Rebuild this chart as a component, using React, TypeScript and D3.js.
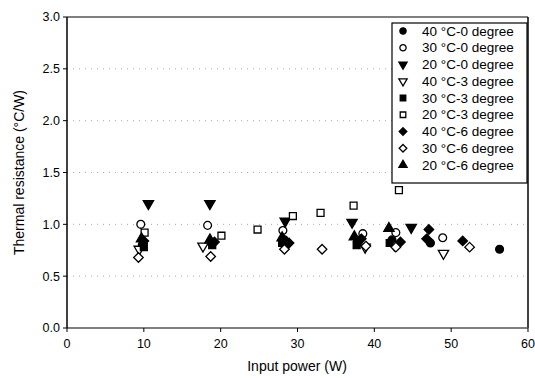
import React from "react";
import * as d3 from "d3";

const seriesNames = [
  "40 °C-0 degree",
  "30 °C-0 degree",
  "20 °C-0 degree",
  "40 °C-3 degree",
  "30 °C-3 degree",
  "20 °C-3 degree",
  "40 °C-6 degree",
  "30 °C-6 degree",
  "20 °C-6 degree",
];

const s40c0: [number, number][] = [[9.8, 0.8], [18.8, 0.82], [28.3, 0.85], [37.8, 0.84], [42.3, 0.85], [47.3, 0.82], [56.3, 0.76]];
const s30c0: [number, number][] = [[9.6, 1.0], [18.3, 0.99], [28.1, 0.94], [38.5, 0.91], [42.8, 0.92], [48.9, 0.87]];
const s20c0: [number, number][] = [[10.6, 1.2], [18.6, 1.2], [28.4, 1.03], [37.1, 1.02], [44.8, 0.97]];
const s40c3: [number, number][] = [[9.4, 0.76], [17.7, 0.79], [38.8, 0.78], [42.6, 0.8], [49.0, 0.72]];
const s30c3: [number, number][] = [[10.0, 0.78], [18.9, 0.8], [28.0, 0.82], [37.7, 0.8], [42.0, 0.82]];
const s20c3: [number, number][] = [[10.1, 0.92], [20.1, 0.89], [24.8, 0.95], [29.4, 1.08], [33.0, 1.11], [37.3, 1.18], [43.2, 1.33]];
const s40c6: [number, number][] = [[10.0, 0.84], [19.2, 0.83], [28.9, 0.82], [38.3, 0.86], [43.4, 0.83], [47.1, 0.95], [46.8, 0.86], [51.5, 0.84]];
const s30c6: [number, number][] = [[9.3, 0.68], [18.7, 0.69], [28.3, 0.76], [33.2, 0.76], [38.9, 0.79], [42.8, 0.78], [52.4, 0.78]];
const s20c6: [number, number][] = [[9.7, 0.86], [18.6, 0.85], [28.0, 0.87], [37.4, 0.88], [41.9, 0.96]];

const allSeries = [s40c0, s30c0, s20c0, s40c3, s30c3, s20c3, s40c6, s30c6, s20c6];

type Mk = { shape: "circle" | "tri" | "triDown" | "square" | "diamond"; filled: boolean };
const markers: Mk[] = [
  { shape: "circle", filled: true },
  { shape: "circle", filled: false },
  { shape: "triDown", filled: true },
  { shape: "triDown", filled: false },
  { shape: "square", filled: true },
  { shape: "square", filled: false },
  { shape: "diamond", filled: true },
  { shape: "diamond", filled: false },
  { shape: "tri", filled: true },
];

const xTicks = [0, 10, 20, 30, 40, 50, 60];
const yTicks = [0, 0.5, 1.0, 1.5, 2.0, 2.5, 3.0];

const W = 535, H = 378;
const L = 67, R = 528, T = 17, B = 328;

function Marker({ mk, x, y, scale = 1 }: { mk: Mk; x: number; y: number; scale?: number }) {
  let type: d3.SymbolType = d3.symbolCircle;
  let size = 48;
  let rot = 0;
  if (mk.shape === "square") { type = d3.symbolSquare; size = 48; }
  if (mk.shape === "diamond") { type = d3.symbolDiamond2; size = 58; }
  if (mk.shape === "tri") { type = d3.symbolTriangle; size = 46; }
  if (mk.shape === "triDown") { type = d3.symbolTriangle; size = 46; rot = 180; }
  const path = d3.symbol(type, size * scale * scale)() || "";
  return (
    <path
      d={path}
      transform={`translate(${x},${y}) rotate(${rot})`}
      fill={mk.filled ? "#000" : "#fff"}
      stroke="#000"
      strokeWidth={1.3}
    />
  );
}

export default function App() {
  const x = d3.scaleLinear().domain([0, 60]).range([L, R]);
  const y = d3.scaleLinear().domain([0, 3]).range([B, T]);
  const font = "Arial, 'Liberation Sans', sans-serif";
  const legX = 392, legY = 23, legW = 135, legH = 160;
  return (
    <svg width={W} height={H} style={{ position: "absolute", left: 0, top: 0, background: "#fff" }} fontFamily={font}>
      <rect x={0} y={0} width={W} height={H} fill="#fff" />
      {yTicks.filter((t) => t > 0 && t < 3).map((t) => (
        <line key={t} x1={L} x2={R} y1={y(t)} y2={y(t)} stroke="#aaaaaa" strokeWidth={1} strokeDasharray="1,5" />
      ))}
      {/* frame */}
      <line x1={L} x2={R} y1={T} y2={T} stroke="#000" strokeWidth={1.2} />
      <line x1={R} x2={R} y1={T} y2={B} stroke="#000" strokeWidth={1.5} />
      <line x1={L} x2={R} y1={B} y2={B} stroke="#555" strokeWidth={1.5} />
      <line x1={L} x2={L} y1={T} y2={B} stroke="#000" strokeWidth={1.5} />
      {yTicks.map((t) => (
        <g key={t}>
          <line x1={L - 4} x2={L} y1={y(t)} y2={y(t)} stroke="#000" />
          <text x={L - 7} y={y(t)} dy="0.35em" textAnchor="end" fontSize={12.5}>{t.toFixed(1)}</text>
        </g>
      ))}
      {xTicks.map((t) => (
        <g key={t}>
          <line x1={x(t)} x2={x(t)} y1={B} y2={B + 4} stroke="#000" />
          <text x={x(t)} y={B + 20} textAnchor="middle" fontSize={12.5}>{t}</text>
        </g>
      ))}
      <text x={297} y={371} textAnchor="middle" fontSize={14}>Input power (W)</text>
      <text transform={`translate(24,${(T + B) / 2}) rotate(-90)`} textAnchor="middle" fontSize={14}>
        Thermal resistance (°C/W)
      </text>
      {allSeries.map((s, i) => (
        <g key={i}>
          {s.map((d, j) => (
            <Marker key={j} mk={markers[i]} x={x(d[0])} y={y(d[1])} />
          ))}
        </g>
      ))}
      <rect x={legX} y={legY} width={legW} height={legH} fill="#fff" stroke="#000" strokeWidth={1.2} />
      {seriesNames.map((n, i) => (
        <g key={n}>
          <Marker mk={markers[i]} x={403} y={31 + i * 16.75} scale={0.8} />
          <text x={422} y={31 + i * 16.75} dy="0.35em" fontSize={13.5}>{n}</text>
        </g>
      ))}
    </svg>
  );
}
